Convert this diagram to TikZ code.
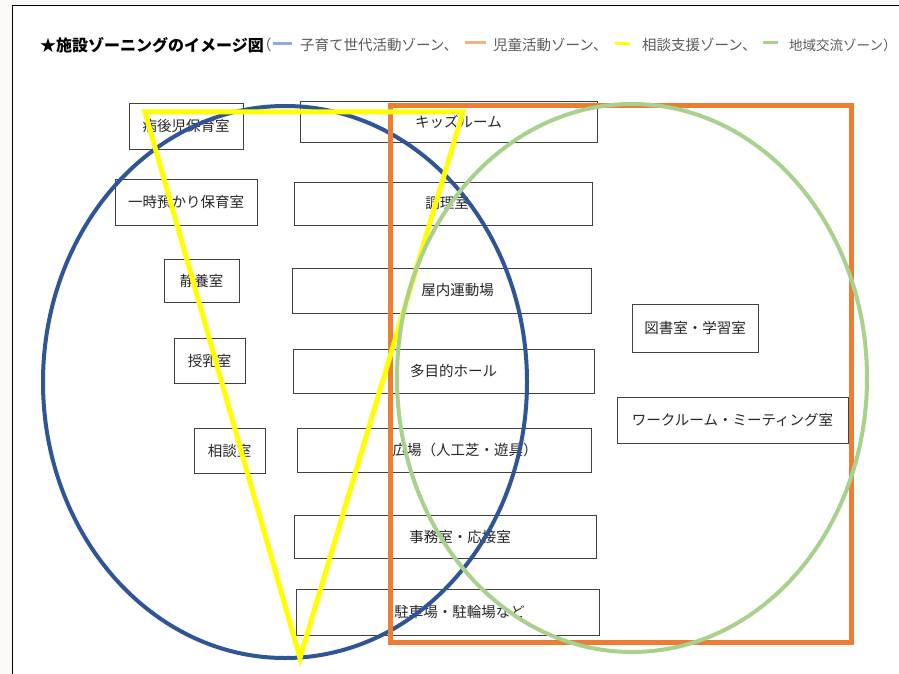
\documentclass[tikz,border=0pt]{standalone}
\usepackage{fontspec}
\newfontfamily\jp{Noto Sans CJK JP}
\definecolor{zblue}{HTML}{2F5597}
\definecolor{zorange}{HTML}{ED7D31}
\definecolor{zyellow}{HTML}{FFFF00}
\definecolor{zgreen}{HTML}{A9D18E}
\definecolor{lblue}{HTML}{8FAADC}
\definecolor{lorange}{HTML}{F4B183}
\definecolor{lgray}{HTML}{595959}
\definecolor{outer}{HTML}{FAF9F7}
\definecolor{boxline}{HTML}{404040}
\begin{document}
\begin{tikzpicture}[x=1pt,y=-1pt,
  room/.style={draw=boxline,line width=1pt,fill=white,rectangle,inner sep=0pt,
    font=\jp\fontsize{14.5}{16}\selectfont,text=black!85},
  legtext/.style={anchor=west,inner sep=0pt,text=lgray,font=\jp\fontsize{14.5}{16}\selectfont},
  legline/.style={line width=3pt},
  zone/.style={line width=4pt}]
\useasboundingbox (0,0) rectangle (899,674);
\clip (0,0) rectangle (899,674);
\fill[outer] (0,0) rectangle (899,674);
\draw[fill=white,line width=1pt] (12,6) rectangle (920,700);

% title and legend
\node[anchor=west,inner sep=0pt,font=\jp\bfseries\fontsize{16}{18}\selectfont] (title) at (40,45) {★施設ゾーニングのイメージ図};
\node[legtext] (paren) at (257,45) {（};
\coordinate (lb1) at (273,44); \coordinate (lb2) at (292,44);
\draw[legline,lblue] (lb1) -- (lb2);
\node[legtext] (lg1) at (300,45) {子育て世代活動ゾーン、};
\coordinate (lo1) at (465,43); \coordinate (lo2) at (486,43);
\draw[legline,lorange] (lo1) -- (lo2);
\node[legtext] (lg2) at (493,45) {児童活動ゾーン、};
\coordinate (ly1) at (615,43); \coordinate (ly2) at (630,44);
\draw[legline,zyellow] (ly1) -- (ly2);
\node[legtext] (lg3) at (642,45) {相談支援ゾーン、};
\coordinate (lgr1) at (763,43); \coordinate (lgr2) at (778,43);
\draw[legline,zgreen] (lgr1) -- (lgr2);
\node[legtext,font=\jp\fontsize{13.5}{16}\selectfont] (lg4) at (789,45) {地域交流ゾーン）};

% rooms
\node[room,minimum width=114pt,minimum height=45pt] (byogo) at (186,126.5) {病後児保育室};
\node[room,minimum width=297pt,minimum height=40pt] (kids) at (448.5,122) {\hspace*{20pt}キッズルーム};
\node[room,minimum width=142pt,minimum height=46pt] (ichiji) at (186,202) {一時預かり保育室};
\node[room,minimum width=298pt,minimum height=43pt] (chori) at (443,203.5) {\hspace*{8pt}調理室};
\node[room,minimum width=75pt,minimum height=43pt] (seiyo) at (201.5,280.5) {静養室};
\node[room,minimum width=299pt,minimum height=45pt] (okunai) at (441.5,290.5) {\hspace*{32pt}屋内運動場};
\node[room,minimum width=71pt,minimum height=45pt] (junyu) at (209.5,360.5) {授乳室};
\node[room,minimum width=301pt,minimum height=44pt] (tamoku) at (443.5,371) {\hspace*{20pt}多目的ホール};
\node[room,minimum width=71pt,minimum height=45pt] (sodan) at (229.5,450.5) {相談室};
\node[room,minimum width=294pt,minimum height=44pt] (hiroba) at (444,450) {\hspace*{42pt}広場（人工芝・遊具）};
\node[room,minimum width=302pt,minimum height=43pt] (jimu) at (445,536.5) {\hspace*{30pt}事務室・応接室};
\node[room,minimum width=303pt,minimum height=46pt] (chusha) at (447.5,612) {\hspace*{24pt}駐車場・駐輪場など};
\node[room,minimum width=126pt,minimum height=48pt] (tosho) at (695,328) {図書室・学習室};
\node[room,minimum width=231pt,minimum height=46pt] (work) at (732.5,420) {ワークルーム・ミーティング室};

% zones
\draw[zone,zblue] (285,382) ellipse [x radius=242, y radius=276];
\draw[line width=5pt,zorange] (390.5,105.5) rectangle (851,642.5);
\draw[line width=5pt,zyellow,line join=miter] (145,112) -- (463,112) -- (300,658) -- cycle;
\draw[zone,zgreen] (632,378) ellipse [x radius=235, y radius=274];
\end{tikzpicture}
\end{document}
